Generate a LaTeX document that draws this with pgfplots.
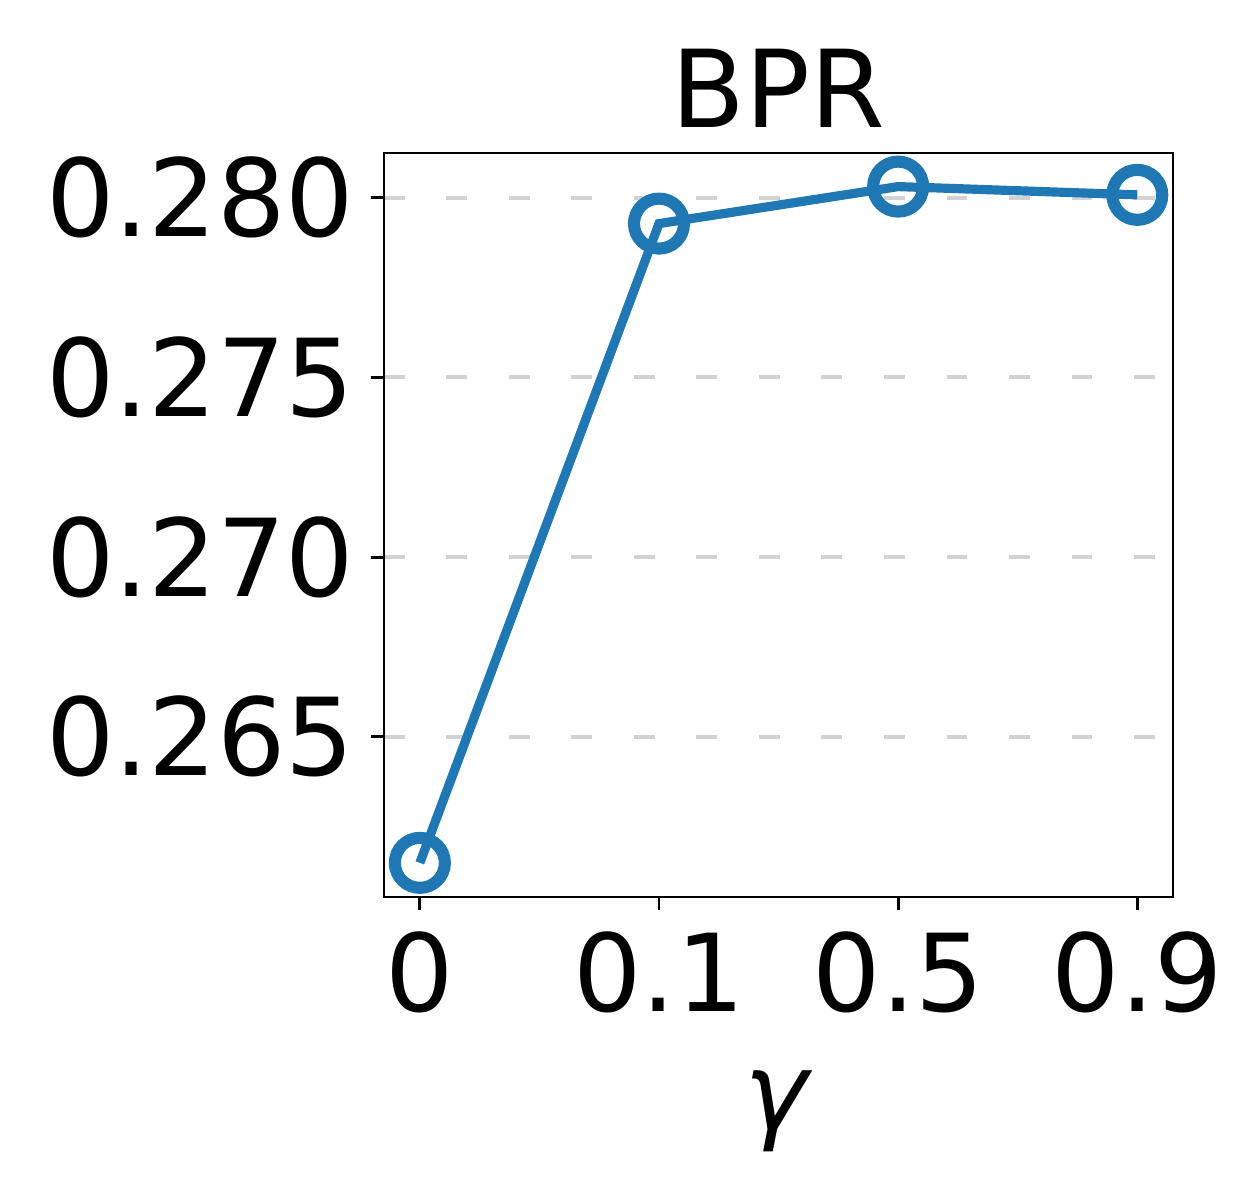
\documentclass[border=0pt]{standalone}
\usepackage{fontspec}
\setmainfont{DejaVu Sans}
\usepackage{pgfplots}
\pgfplotsset{compat=1.18}
\definecolor{tabblue}{HTML}{1F77B4}
\begin{document}
\begin{tikzpicture}
\begin{axis}[
  name=ax,
  scale only axis,
  width=189.4pt, height=178.6pt,
  xmin=-0.15, xmax=3.15,
  ymin=0.26054, ymax=0.28125,
  xtick={0,1,2,3}, xticklabels={0,0.1,0.5,0.9},
  ytick={0.265,0.270,0.275,0.280},
  yticklabel style={/pgf/number format/fixed, /pgf/number format/precision=3,
    /pgf/number format/fixed zerofill},
  /pgf/number format/assume math mode=true,
  scaled y ticks=false,
  tick label style={font=\fontsize{25.8}{31}\selectfont},
  xticklabel style={yshift=-1.5pt},
  yticklabel style={xshift=-0.5pt},
  title={BPR}, title style={font=\fontsize{25.8}{31}\selectfont, yshift=-3.5pt},
  xlabel={\textit{γ}}, xlabel style={font=\fontsize{25.8}{31}\selectfont, yshift=-7pt},
  tick align=outside, major tick length=3.2pt,
  xtick pos=bottom, ytick pos=left,
  tick style={black, line width=0.7pt},
  axis line style={line width=0.6pt},
  ymajorgrids, grid style={color={rgb,255:red,210;green,210;blue,210}, line width=1pt, dash pattern=on 5pt off 10pt},
]
\addplot[color=tabblue, line width=2.2pt, mark=o, mark size=6pt,
  mark options={line width=2.9pt, fill=none}]
  coordinates {(0,0.26149) (1,0.27928) (2,0.28031) (3,0.28008)};
\end{axis}
\path ([shift={(-92.16pt,-72.72pt)}]ax.south west) rectangle ([shift={(210.24pt,215.28pt)}]ax.south west);
\end{tikzpicture}
\end{document}
